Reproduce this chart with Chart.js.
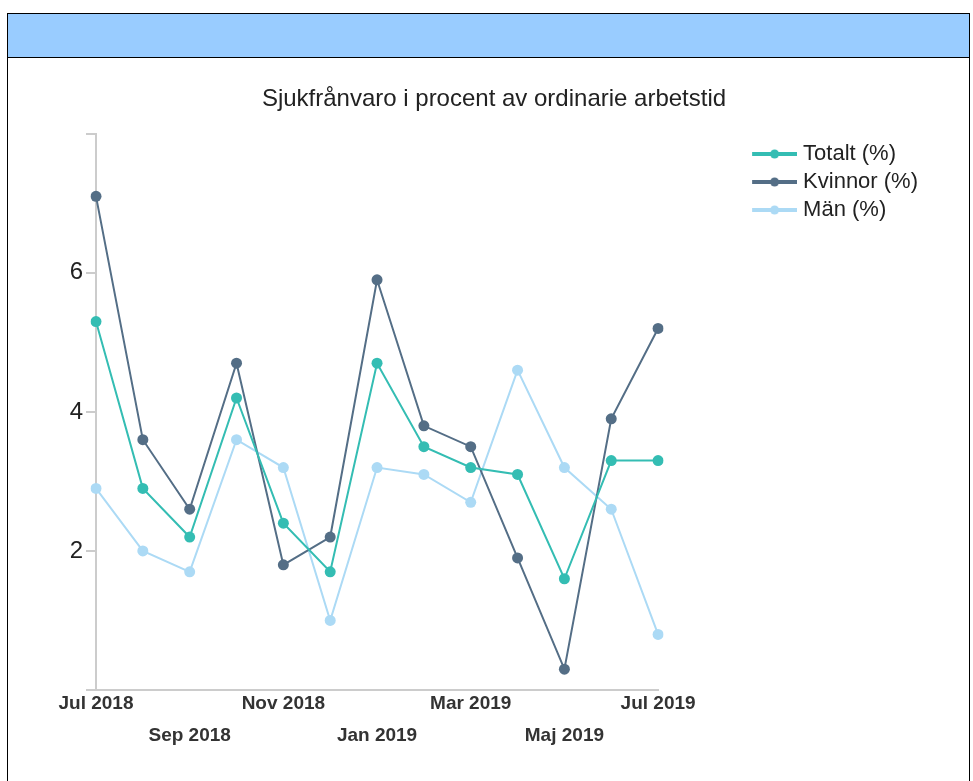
<!DOCTYPE html>
<html lang="sv">
<head>
<meta charset="utf-8">
<title>Sjukfrånvaro</title>
<script src="https://cdn.jsdelivr.net/npm/chart.js@4/dist/chart.umd.min.js"></script>
<style>
    html, body { margin: 0; padding: 0; background: #fff; }
    .panel { position: absolute; left: 7px; top: 13px; width: 961px; height: 800px; border: 1px solid #000; }
    .panel-head { height: 43px; background: #99ccff; border-bottom: 1px solid #000; }
    .chart-wrap { position: relative; width: 961px; height: 723px; }
</style>
</head>
<body>
<div class="panel">
    <div class="panel-head"></div>
    <div class="chart-wrap"><canvas id="sickChart"></canvas></div>
</div>
<script>
// Månader, jul 2018 - jul 2019
const months = ['Jul 2018', 'Aug 2018', 'Sep 2018', 'Okt 2018', 'Nov 2018', 'Dec 2018',
    'Jan 2019', 'Feb 2019', 'Mar 2019', 'Apr 2019', 'Maj 2019', 'Jun 2019', 'Jul 2019'];

const totalt  = [5.3, 2.9, 2.2, 4.2, 2.4, 1.7, 4.7, 3.5, 3.2, 3.1, 1.6, 3.3, 3.3];
const kvinnor = [7.1, 3.6, 2.6, 4.7, 1.8, 2.2, 5.9, 3.8, 3.5, 1.9, 0.3, 3.9, 5.2];
const man     = [2.9, 2.0, 1.7, 3.6, 3.2, 1.0, 3.2, 3.1, 2.7, 4.6, 3.2, 2.6, 0.8];

const yTicks = [2, 4, 6];

const colors = { totalt: '#34bdb3', kvinnor: '#546e86', man: '#acdaf5' };

const FONT = "'Liberation Sans', Arial, sans-serif";

// legend marker: short thick line with a dot, drawn to the right of a blank lead-in
const BOX_W = 128;
const MARK_W = 138;
function legendMarker(color) {
    const c = document.createElement('canvas');
    c.width = MARK_W;
    c.height = 12;
    const g = c.getContext('2d');
    g.strokeStyle = color;
    g.lineWidth = 4;
    g.beginPath();
    g.moveTo(MARK_W - 45, 6);
    g.lineTo(MARK_W, 6);
    g.stroke();
    g.fillStyle = color;
    g.beginPath();
    g.arc(MARK_W - 22.5, 6, 4.5, 0, Math.PI * 2);
    g.fill();
    return c;
}

function series(label, data, color) {
    return {
        label,
        data,
        borderColor: color,
        backgroundColor: color,
        borderWidth: 2,
        pointRadius: 5.5,
        pointHoverRadius: 5.5,
        pointBorderWidth: 0,
        pointBackgroundColor: color,
        tension: 0
    };
}

const datasets = [
    series('Totalt (%)', totalt, colors.totalt),
    series('Kvinnor (%)', kvinnor, colors.kvinnor),
    series('Män (%)', man, colors.man)
];
const markers = datasets.map(d => legendMarker(d.borderColor));

new Chart(document.getElementById('sickChart'), {
    type: 'line',
    data: { labels: months, datasets },
    options: {
        responsive: true,
        maintainAspectRatio: false,
        animation: false,
        layout: { padding: { left: 52, right: 41, top: 0, bottom: 0 } },
        plugins: {
            title: {
                display: true,
                text: 'Sjukfrånvaro i procent av ordinarie arbetstid',
                color: '#222',
                font: { family: FONT, size: 24, weight: 'normal' },
                padding: { top: 27, bottom: 20 }
            },
            legend: {
                position: 'right',
                align: 'start',
                fullSize: false,
                maxWidth: 320,
                title: { display: true, text: '', font: { size: 1 }, padding: { top: 1, bottom: 1 } },
                labels: {
                    color: '#222',
                    font: { family: FONT, size: 22 },
                    padding: 6,
                    usePointStyle: true,
                    pointStyleWidth: BOX_W,
                    generateLabels(chart) {
                        const items = Chart.defaults.plugins.legend.labels.generateLabels(chart);
                        items.forEach(it => { it.pointStyle = markers[it.datasetIndex]; });
                        return items;
                    }
                }
            },
            tooltip: { enabled: false }
        },
        scales: {
            x: {
                offset: false,
                grid: { display: false },
                border: { display: true, color: '#cccccc', width: 2 },
                ticks: {
                    autoSkip: false,
                    maxRotation: 0,
                    padding: -10,
                    color: '#333',
                    font: { family: FONT, size: 19, weight: 'bold', lineHeight: 32 / 19 },
                    callback(value, index) {
                        const label = months[index];
                        if (index % 4 === 0) return label;
                        if (index % 2 === 0) return ['', label];
                        return '';
                    }
                },
                afterFit(scale) { scale.height = 91; }
            },
            y: {
                min: 0,
                max: 8,
                grid: { drawOnChartArea: false, drawTicks: true, tickLength: 10, color: '#cccccc', lineWidth: 2 },
                border: { display: true, color: '#cccccc', width: 2 },
                ticks: {
                    stepSize: 2,
                    padding: 3,
                    color: '#222',
                    font: { family: FONT, size: 24 },
                    callback: v => (yTicks.includes(v) ? String(v) : '')
                },
                afterFit(scale) { scale.width = 36; }
            }
        }
    }
});
</script>
</body>
</html>
